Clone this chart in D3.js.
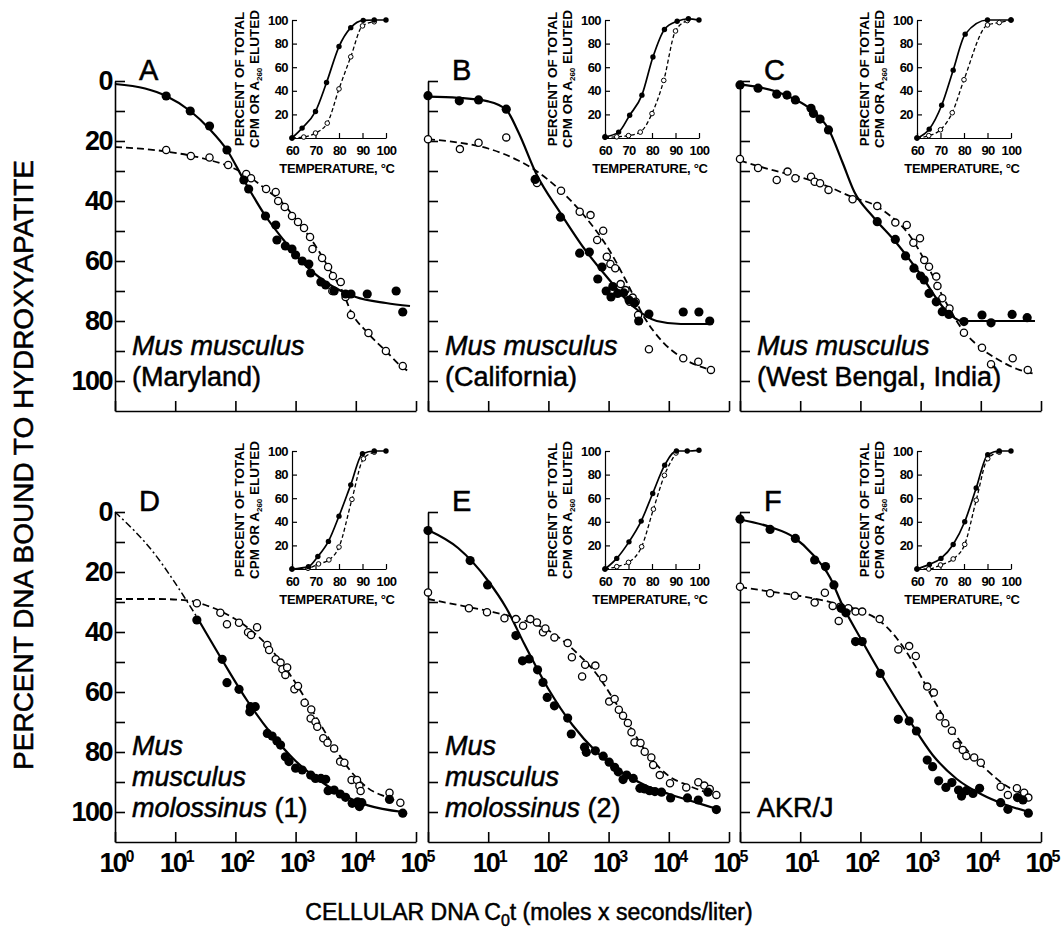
<!DOCTYPE html>
<html>
<head>
<meta charset="utf-8">
<script src="https://cdn.jsdelivr.net/npm/d3@7"></script>
<style>
  body { margin: 0; background: #fff; }
  svg { font-family: "Liberation Sans", Arial, sans-serif; }
  .axis path, .axis line { stroke: #000; stroke-width: 1.6; }
  .inset path.domain, .inset line { stroke: #000; stroke-width: 1.2; }
  .main_tick text { font-size: 27px; font-weight: bold; letter-spacing: -1.5px; }
  .inset_tick text { font-size: 13px; font-weight: bold; letter-spacing: -0.6px; }
  .heavy { stroke: #000; stroke-width: 0.5px; }
</style>
</head>
<body>
<svg id="chart" width="1064" height="928"></svg>
<script>
var panelLetters = ["A", "B", "C", "D", "E", "F"];
var speciesLines = [
  [[["Mus musculus", true]], [["(Maryland)", false]]],
  [[["Mus musculus", true]], [["(California)", false]]],
  [[["Mus musculus", true]], [["(West Bengal, India)", false]]],
  [[["Mus", true]], [["musculus", true]], [["molossinus", true], [" (1)", false]]],
  [[["Mus", true]], [["musculus", true]], [["molossinus", true], [" (2)", false]]],
  [[["AKR/J", false]]]
];
var yTicks = [0, 10, 20, 30, 40, 50, 60, 70, 80, 90, 100];
var yTickLabels = [0, 20, 40, 60, 80, 100];
var xTickExps = [0, 1, 2, 3, 4, 5];
var insetXTicks = [60, 70, 80, 90, 100];
var insetYTicks = [20, 40, 60, 80, 100];

// ---- A
var aFilled = [[0.85,5],[1.25,10],[1.57,15],[1.86,23],[2.14,33],[2.22,36],[2.5,45],[2.67,48],[2.69,53],[2.83,55],[2.94,56],[3.0,58],[3.11,60],[3.22,61],[3.25,64],[3.42,67],[3.5,68],[3.64,70],[3.83,71],[3.92,71],[4.19,71],[4.67,70],[4.78,77]];
var aOpen = [[0.85,23],[1.26,25],[1.57,25.5],[1.88,28],[2.18,31],[2.26,32.4],[2.51,36],[2.67,37],[2.71,40],[2.82,42],[2.94,45],[3.04,47],[3.14,49],[3.24,52],[3.28,56],[3.44,59],[3.54,62],[3.62,65],[3.61,70],[3.75,67],[3.83,72],[3.92,78],[4.21,84],[4.5,90],[4.78,95]];
var aSolid = [[0,1],[0.5,2.5],[0.85,5],[1.25,10],[1.57,16],[1.86,23],[2.14,33],[2.5,45],[2.8,53],[3.0,58],[3.5,67],[4,72],[4.5,74],[4.9,75]];
var aDashed = [[0,22],[0.85,23.5],[1.5,26],[1.9,28.5],[2.2,31.5],[2.5,36],[2.8,41],[3.0,46],[3.3,54],[3.6,64],[3.8,71],[3.9,76],[4.2,84],[4.5,90],[4.78,95.5],[4.9,97]];
var aMeltFilled = [[60,0],[64.3,8.4],[70,22.5],[74.7,47],[80,77.5],[85,93.5],[90.3,99.7],[95,100],[100,100]];
var aMeltOpen = [[60,0],[65,0.8],[70,4.2],[75,12.6],[80,41.6],[85,68.8],[90,95],[95,98.5]];

// ---- B
var bFilled = [[0,4.9],[0.52,6.6],[0.84,6.3],[1.3,9.4],[1.78,32.8],[2.2,45.4],[2.52,57.4],[2.68,57],[2.89,62],[2.82,66],[2.96,70],[3.04,72],[3.07,68.5],[3.15,70.8],[3.25,70.6],[3.34,73],[3.43,74],[3.5,80],[3.67,77.7],[4.24,77],[4.5,77],[4.68,80]];
var bOpen = [[0,19.4],[0.53,22.7],[0.84,20.6],[1.3,18.8],[1.81,34],[2.21,36.6],[2.52,43.6],[2.7,44.7],[2.91,49.9],[2.81,53],[2.97,58.6],[3.03,61],[3.11,62.4],[3.2,67.7],[3.28,69.7],[3.4,72.2],[3.35,73.6],[3.45,73.6],[3.49,78],[3.67,89.4],[4.24,92.4],[4.49,93.6],[4.7,96.3]];
var bSolid = [[0,5.2],[0.5,5.6],[1,6.8],[1.3,9.6],[1.5,17],[1.8,31],[2.2,44],[2.6,56],[3,66],[3.4,75],[3.8,80],[4.2,81],[4.7,81]];
var bDashed = [[0,19.4],[0.5,20.5],[1,22.5],[1.5,26.5],[1.8,30],[2.2,36.5],[2.6,45],[3,56],[3.3,67],[3.6,79],[3.9,87],[4.2,92],[4.7,96.3]];
var bMeltFilled = [[60,1],[65.8,5],[70.5,19.3],[75.7,36.3],[80.4,68.6],[85.3,92],[90.7,98.9],[95.5,101],[100,100]];
var bMeltOpen = [[60,0.5],[65,1],[70,2],[75,5],[80,20.7],[85,48.8],[90,90.7],[95,99.5]];

// ---- C
var cFilled = [[0,1.3],[0.3,2.4],[0.61,4.4],[0.78,4.7],[0.92,6.3],[1.18,9.1],[1.22,10.8],[1.33,12.7],[1.47,16.3],[2.28,46.9],[2.58,52.8],[2.75,58.3],[2.89,62.4],[3.0,65],[3.06,66.3],[3.14,70.8],[3.26,73.6],[3.36,76.9],[3.47,77.8],[3.72,80.2],[4.02,78],[4.17,80.6],[4.52,77.8],[4.77,78.9]];
var cOpen = [[0,26],[0.3,29],[0.61,33],[0.79,30.2],[0.92,32.4],[1.18,31.9],[1.24,33.6],[1.33,34.1],[1.47,36.3],[1.87,39.4],[2.28,41.7],[2.58,47.2],[2.77,48],[2.88,53.9],[2.99,52.4],[3.06,59.7],[3.14,61.9],[3.26,65.2],[3.28,68.3],[3.36,72.4],[3.48,75.8],[3.72,83.9],[4.02,88.9],[4.17,94.4],[4.53,92.4],[4.78,96.3]];
var cSolid = [[0,1.2],[0.3,2],[0.6,3.5],[0.9,6],[1.2,9.8],[1.47,16],[1.7,27],[1.9,37],[2.2,45],[2.6,54],[3,64.5],[3.4,76],[3.7,80],[4,80],[4.5,80],[4.9,80]];
var cDashed = [[0,26.5],[0.5,29.5],[1,32],[1.5,35.5],[1.9,39],[2.2,41],[2.5,45],[2.8,51],[3.1,61],[3.4,73],[3.7,83],[4,89],[4.3,93],[4.6,96],[4.87,97.5]];
var cMeltFilled = [[60,0],[65.2,7.5],[70.5,27.8],[75.4,57.5],[80.5,88],[90,100],[100,100]];
var cMeltOpen = [[60,0],[65,2],[70,7],[75,21.4],[80,49.4],[90,95.8],[95,97.8],[100,100]];

// ---- D
var dFilled = [[1.36,36],[1.78,49.1],[1.86,56.9],[2.06,59.1],[2.25,64.9],[2.33,64.9],[2.24,66.6],[2.53,73.8],[2.61,74.7],[2.69,76.3],[2.75,77.7],[2.83,81.6],[2.89,83.2],[3.0,85.4],[3.11,86],[3.25,87.7],[3.33,88.8],[3.42,88.8],[3.5,89.1],[3.54,92.9],[3.64,92.7],[3.74,94],[3.83,95.1],[3.94,97.1],[4.03,96.6],[4.1,96.9],[4.06,98.2],[4.56,95.8],[4.78,100.4]];
var dOpen = [[1.36,30.4],[1.75,33.6],[1.86,37.4],[2.06,36.9],[2.21,40.1],[2.26,41],[2.36,38.4],[2.53,44.3],[2.56,46],[2.67,49.1],[2.75,50.2],[2.78,52.4],[2.86,51.8],[2.83,54.3],[2.98,59.1],[3.04,58],[3.15,63.6],[3.26,65.8],[3.25,68.8],[3.33,69.9],[3.36,71.6],[3.46,75.4],[3.53,76.9],[3.64,78.8],[3.74,83.2],[3.81,83.6],[3.93,89.3],[4.02,89.3],[4.06,91.3],[4.08,93],[4.56,93.6],[4.74,96.9]];
var dDashDot = [[0,0],[0.64,13.5],[1.14,28],[1.36,35]];
var dSolid = [[1.36,35],[1.8,50],[2.2,63],[2.6,74],[3,83],[3.4,89.5],[3.8,94.5],[4.2,97.8],[4.78,100]];
var dDashed = [[0,29],[0.7,29],[1.2,29.5],[1.5,31],[1.8,33.5],[2.2,38.5],[2.6,46],[3,57],[3.3,67],[3.6,77],[3.9,86],[4.2,92],[4.5,95],[4.75,97]];
var dMeltFilled = [[60,0],[67,2],[71,10.6],[75.5,23.4],[80,44.8],[85,71.3],[90,97.7],[95,100],[100,100]];
var dMeltOpen = [[60,0],[66.8,0.6],[71.3,4.3],[75.7,7.7],[80,18.6],[85.5,59],[90.4,93.4],[95,99]];

// ---- E
var eFilled = [[0,6.2],[0.7,16.2],[0.99,24.3],[1.46,41.2],[1.57,49.6],[1.68,49],[1.82,52.6],[1.91,56.8],[1.98,61.8],[2.1,64.6],[2.32,68.7],[2.38,74],[2.6,78.4],[2.63,80.1],[2.78,79.6],[2.91,81.4],[3.01,83.4],[3.1,85.1],[3.16,86.6],[3.24,89.2],[3.3,87.7],[3.41,88.8],[3.52,92.1],[3.6,92.3],[3.68,92.9],[3.77,93.2],[3.88,93.4],[4.03,95.3],[4.31,95.3],[4.49,96],[4.65,93.4],[4.79,99.2]];
var eOpen = [[0,26.8],[0.68,32.1],[0.98,33.4],[1.27,35.4],[1.46,35.7],[1.58,37.9],[1.7,35.7],[1.81,36.8],[1.91,40.1],[1.95,38.8],[2.1,41.8],[2.32,43.7],[2.39,48.4],[2.61,50.9],[2.56,54.8],[2.78,51.2],[2.91,55.4],[3.01,63.2],[3.1,62.3],[3.17,65.9],[3.24,67.9],[3.32,70.3],[3.38,73.4],[3.43,76.8],[3.53,77],[3.6,79.9],[3.71,81.8],[3.74,84.3],[3.85,87.7],[4.02,90.4],[4.29,91.8],[4.49,90.1],[4.59,91.2],[4.68,92.3],[4.79,94.3]];
var eSolid = [[0,6],[0.5,12],[1,23],[1.3,32],[1.6,44],[2,59],[2.4,71],[2.8,80],[3.2,86.5],[3.6,91],[4,94],[4.4,96.5],[4.8,99]];
var eDashed = [[0,29],[0.5,31],[1,33],[1.5,35.5],[2,39.5],[2.5,47.5],[2.8,54],[3.1,63],[3.4,73],[3.7,82],[4.0,88],[4.3,91],[4.8,94.5]];
var eMeltFilled = [[60,0],[65,9],[70.2,23],[75.4,40.6],[80.3,64],[85.4,88],[90.4,100],[95,100],[100,100.6]];
var eMeltOpen = [[60,0],[65,2],[70,5.6],[75.6,18.9],[80.6,50.7],[85.3,79.4],[90.2,98.3]];

// ---- F
var fFilled = [[0,2.4],[0.5,5.8],[0.92,8.8],[1.24,16],[1.42,18.2],[1.56,24.3],[1.68,32.1],[1.76,33.6],[1.92,43.2],[2.03,43.2],[2.33,53.8],[2.63,69.1],[2.81,69.7],[2.93,73],[3.11,82.7],[3.2,84.9],[3.3,89.6],[3.42,91.8],[3.52,90.2],[3.63,92.7],[3.68,94.7],[3.76,92.9],[3.87,93.8],[3.98,92.1],[4.33,96.9],[4.45,99.1],[4.61,95.2],[4.7,96],[4.79,100.4]];
var fOpen = [[0,24.9],[0.5,27.1],[0.91,27.9],[1.24,30.2],[1.41,26.9],[1.54,31.3],[1.64,36.3],[1.67,31.6],[1.8,32.1],[1.92,33.2],[2.03,33.2],[2.32,35.7],[2.63,45.8],[2.81,44.7],[2.92,48],[3.11,58.2],[3.22,60.2],[3.32,68.2],[3.41,70.4],[3.52,72.9],[3.6,77.7],[3.7,79.3],[3.76,81.3],[3.89,81.8],[4.0,83.6],[4.33,91.6],[4.45,94.3],[4.6,92.1],[4.72,93.6],[4.79,95.2]];
var fSolid = [[0,2.5],[0.5,5],[0.9,8.5],[1.2,14],[1.5,22],[1.7,31],[2,42],[2.4,56],[2.8,69],[3.2,81],[3.6,89],[4,94],[4.4,97.5],[4.8,100]];
var fDashed = [[0,25],[0.5,26.5],[1,28],[1.5,30],[2,33],[2.3,36],[2.6,42],[2.9,51],[3.2,62],[3.5,72],[3.8,80],[4.1,86],[4.4,91],[4.8,94.5]];
var fMeltFilled = [[60,0],[65.3,3.9],[70.2,9],[75.4,20.8],[80.3,40],[85.2,68.7],[90.1,96.9],[95,100],[100,100]];
var fMeltOpen = [[60,0],[65,0],[70,3.4],[75.4,8.5],[80.3,20.8],[85.2,58.3],[90.1,93.5],[95,99]];

var svg = d3.select("#chart");
var panelXs = [115, 428, 740];
var rowTops = [81, 512];
var panelW = 301;
var panelH = 330;

var panels = [
  {filled: aFilled, open: aOpen, solid: aSolid, dashed: aDashed, dashdot: null, meltF: aMeltFilled, meltO: aMeltOpen},
  {filled: bFilled, open: bOpen, solid: bSolid, dashed: bDashed, dashdot: null, meltF: bMeltFilled, meltO: bMeltOpen},
  {filled: cFilled, open: cOpen, solid: cSolid, dashed: cDashed, dashdot: null, meltF: cMeltFilled, meltO: cMeltOpen},
  {filled: dFilled, open: dOpen, solid: dSolid, dashed: dDashed, dashdot: dDashDot, meltF: dMeltFilled, meltO: dMeltOpen},
  {filled: eFilled, open: eOpen, solid: eSolid, dashed: eDashed, dashdot: null, meltF: eMeltFilled, meltO: eMeltOpen},
  {filled: fFilled, open: fOpen, solid: fSolid, dashed: fDashed, dashdot: null, meltF: fMeltFilled, meltO: fMeltOpen}
];

panels.forEach(function(p, i) {
  var col = i % 3, row = Math.floor(i / 3);
  var x0 = panelXs[col], y0 = rowTops[row];
  var x = d3.scaleLog().domain([1, 1e5]).range([x0, x0 + panelW]);
  var y = d3.scaleLinear().domain([0, 110]).range([y0, y0 + panelH]);
  var cx = function(d) { return x(Math.pow(10, d[0])); };
  var cy = function(d) { return y(d[1]); };
  var g = svg.append("g");

  // axes
  g.append("g")
    .attr("class", "axis main_tick")
    .attr("transform", "translate(" + x0 + ",0)")
    .call(d3.axisLeft(y).tickValues(yTicks).tickSize(-10).tickSizeOuter(0).tickPadding(3)
      .tickFormat(function(d) { return (col == 0 && yTickLabels.indexOf(d) >= 0) ? d : ""; }))
    .attr("font-family", null).attr("font-size", null);
  g.append("g")
    .attr("class", "axis")
    .attr("transform", "translate(0," + y(110) + ")")
    .call(d3.axisBottom(x).tickValues(xTickExps.map(function(e) { return Math.pow(10, e); }))
      .tickSize(-10).tickSizeOuter(0).tickFormat(""));

  if (row == 1) {
    var lab = g.selectAll("xlab")
      .data(xTickExps.filter(function(e) { return col == 0 || e > 0; }))
      .enter()
      .append("text")
      .attr("x", function(e) { return x(Math.pow(10, e)) + 2; })
      .attr("y", y(110) + 30)
      .style("text-anchor", "middle")
      .style("font-size", "27px")
      .style("font-weight", "bold")
      .style("letter-spacing", "-2px");
    lab.append("tspan").text("10");
    lab.append("tspan").attr("dy", -10).style("font-size", "16px").style("letter-spacing", "0px")
      .text(function(e) { return e; });
  }

  // fitted curves
  var line = d3.line().x(cx).y(cy).curve(d3.curveMonotoneX);
  g.append("path").attr("d", line(p.dashed))
    .style("fill", "none").style("stroke", "#000").style("stroke-width", 1.8).style("stroke-dasharray", "7,4");
  g.append("path").attr("d", line(p.solid))
    .style("fill", "none").style("stroke", "#000").style("stroke-width", 2.2);
  if (p.dashdot) {
    g.append("path").attr("d", line(p.dashdot))
      .style("fill", "none").style("stroke", "#000").style("stroke-width", 1.5).style("stroke-dasharray", "7,3,2,3");
  }

  // points
  g.selectAll("openDots")
    .data(p.open)
    .enter()
    .append("circle")
    .attr("cx", cx).attr("cy", cy).attr("r", 3.6)
    .style("fill", "#fff").style("stroke", "#000").style("stroke-width", 1.3);
  g.selectAll("filledDots")
    .data(p.filled)
    .enter()
    .append("circle")
    .attr("cx", cx).attr("cy", cy).attr("r", 4.6)
    .style("fill", "#000");

  // panel letter
  g.append("text")
    .attr("class", "heavy")
    .attr("x", x0 + 24).attr("y", y0 - 1)
    .text(panelLetters[i])
    .style("font-size", "29px");

  // species label
  var lines = speciesLines[i];
  lines.forEach(function(segs, k) {
    var t = g.append("text")
      .attr("class", "heavy")
      .attr("x", x0 + 17)
      .attr("y", y0 + 305 - (lines.length - 1 - k) * 31)
      .style("font-size", "27px");
    segs.forEach(function(s) {
      t.append("tspan").text(s[0]).style("font-style", s[1] ? "italic" : "normal");
    });
  });

  // melting inset
  var xi = d3.scaleLinear().domain([60, 100]).range([x0 + 177, x0 + 271]);
  var yi = d3.scaleLinear().domain([0, 100]).range([y0 + 57, y0 - 61]);
  var gi = g.append("g").attr("class", "inset");
  gi.append("g")
    .attr("class", "inset_tick")
    .attr("transform", "translate(" + xi(60) + ",0)")
    .call(d3.axisLeft(yi).tickValues(insetYTicks).tickSize(-5).tickSizeOuter(0).tickPadding(4))
    .attr("font-family", null).attr("font-size", null);
  gi.append("g")
    .attr("class", "inset_tick")
    .attr("transform", "translate(0," + yi(0) + ")")
    .call(d3.axisBottom(xi).tickValues(insetXTicks).tickSize(-5).tickSizeOuter(0).tickPadding(8))
    .attr("font-family", null).attr("font-size", null);

  var lineI = d3.line()
    .x(function(d) { return xi(d[0]); })
    .y(function(d) { return yi(d[1]); })
    .curve(d3.curveMonotoneX);
  gi.append("path").attr("d", lineI(p.meltO))
    .style("fill", "none").style("stroke", "#000").style("stroke-width", 1.3).style("stroke-dasharray", "4,2.5");
  gi.append("path").attr("d", lineI(p.meltF))
    .style("fill", "none").style("stroke", "#000").style("stroke-width", 1.7);
  gi.selectAll("meltOpen")
    .data(p.meltO)
    .enter()
    .append("circle")
    .attr("cx", function(d) { return xi(d[0]); })
    .attr("cy", function(d) { return yi(d[1]); })
    .attr("r", 2.3)
    .style("fill", "#fff").style("stroke", "#000").style("stroke-width", 1);
  gi.selectAll("meltFilled")
    .data(p.meltF)
    .enter()
    .append("circle")
    .attr("cx", function(d) { return xi(d[0]); })
    .attr("cy", function(d) { return yi(d[1]); })
    .attr("r", 2.7)
    .style("fill", "#000");

  gi.append("text")
    .attr("transform", "translate(" + (xi(60) - 48) + "," + yi(50) + ") rotate(-90)")
    .style("text-anchor", "middle")
    .style("font-size", "13.5px").style("font-weight", "bold")
    .text("PERCENT OF TOTAL");
  var t2 = gi.append("text")
    .attr("transform", "translate(" + (xi(60) - 33) + "," + yi(50) + ") rotate(-90)")
    .style("text-anchor", "middle")
    .style("font-size", "13.5px").style("font-weight", "bold");
  t2.append("tspan").text("CPM OR A");
  t2.append("tspan").attr("dy", 3).style("font-size", "8px").text("260");
  t2.append("tspan").attr("dy", -3).text(" ELUTED");
  gi.append("text")
    .attr("x", (xi(60) + xi(100)) / 2 - 2)
    .attr("y", yi(0) + 35)
    .style("text-anchor", "middle")
    .style("font-size", "13px").style("font-weight", "bold").style("letter-spacing", "-0.3px")
    .text("TEMPERATURE, \u00B0C");
});

// axis titles
svg.append("text")
  .attr("class", "heavy")
  .attr("transform", "translate(33,465) rotate(-90)")
  .style("text-anchor", "middle")
  .style("font-size", "28px")
  .text("PERCENT DNA BOUND TO HYDROXYAPATITE");
var xt = svg.append("text")
  .attr("class", "heavy")
  .attr("x", 529).attr("y", 920)
  .style("text-anchor", "middle")
  .style("font-size", "23px");
xt.append("tspan").text("CELLULAR DNA C");
xt.append("tspan").attr("dy", 6).style("font-size", "16px").text("0");
xt.append("tspan").attr("dy", -6).text("t (moles x seconds/liter)");
</script>
</body>
</html>
